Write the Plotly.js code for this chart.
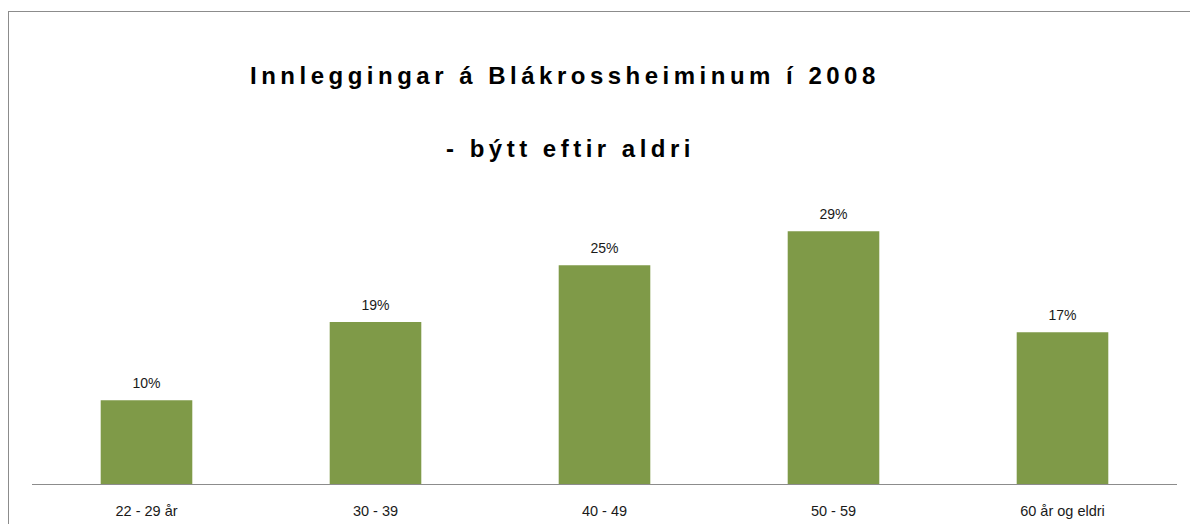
<!DOCTYPE html>
<html>
<head>
<meta charset="utf-8">
<script src="https://cdn.plot.ly/plotly-3.0.1.min.js"></script>
<style>
html, body { margin: 0; padding: 0; background: #fff; overflow: hidden; }
#wrap { position: relative; width: 1190px; height: 524px; }
#chart { position: absolute; left: 0; top: 0; width: 1190px; height: 524px; }
#frame { position: absolute; left: 8px; top: 11px; width: 1300px; height: 700px; border: 1px solid #8c8c8c; pointer-events: none; }
.annotation-text { letter-spacing: 4.5px; }
</style>
</head>
<body>
<div id="wrap">
<div id="chart"></div>
<div id="frame"></div>
</div>
<script>
const categories = ["22 - 29 år", "30 - 39", "40 - 49", "50 - 59", "60 år og eldri"];
const shares = [0.096, 0.186, 0.251, 0.290, 0.174];
const titleLine1 = "Innleggingar á Blákrossheiminum í 2008";
const titleLine2 = "- býtt eftir aldri";

const barColor = "#7f9a48";

const bars = {
  type: "bar",
  x: categories,
  y: shares,
  marker: { color: barColor },
  hoverinfo: "skip",
  showlegend: false
};

const labels = {
  type: "scatter",
  mode: "markers+text",
  x: categories,
  y: shares,
  text: shares.map(v => Math.round(v * 100) + "%"),
  textposition: "top center",
  textfont: { family: "Liberation Sans, Arial, sans-serif", size: 14, color: "#1a1a1a" },
  marker: { size: 12, opacity: 0, color: barColor },
  hoverinfo: "skip",
  showlegend: false,
  cliponaxis: false
};

const layout = {
  width: 1190,
  height: 524,
  margin: { l: 32, r: 13, t: 179, b: 40 },
  paper_bgcolor: "#ffffff",
  plot_bgcolor: "#ffffff",
  bargap: 0.6,
  font: { family: "Liberation Sans, Arial, sans-serif", color: "#1a1a1a" },
  xaxis: {
    type: "category",
    showline: true,
    linecolor: "#8c8c8c",
    linewidth: 1,
    ticks: "",
    showgrid: false,
    zeroline: false,
    tickfont: { size: 14.5, color: "#1a1a1a" },
    ticklabelstandoff: 14,
    fixedrange: true
  },
  yaxis: {
    range: [0, 0.35],
    visible: false,
    showgrid: false,
    zeroline: false,
    fixedrange: true
  },
  annotations: [
    {
      text: "<b>" + titleLine1 + "</b>",
      xref: "paper", yref: "paper",
      x: 0.4655, y: 1.3406,
      xanchor: "center", yanchor: "middle",
      showarrow: false,
      font: { family: "Liberation Sans, Arial, sans-serif", size: 24, color: "#000000" }
    },
    {
      text: "<b>" + titleLine2 + "</b>",
      xref: "paper", yref: "paper",
      x: 0.4705, y: 1.1014,
      xanchor: "center", yanchor: "middle",
      showarrow: false,
      font: { family: "Liberation Sans, Arial, sans-serif", size: 24, color: "#000000" }
    }
  ]
};

Plotly.newPlot("chart", [bars, labels], layout, { displayModeBar: false, staticPlot: true });
</script>
</body>
</html>
